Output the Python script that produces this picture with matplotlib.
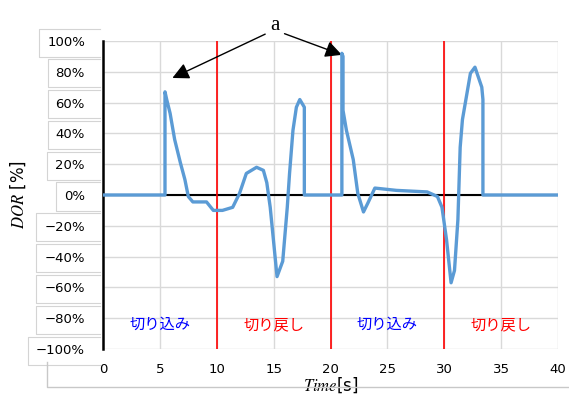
import matplotlib.pyplot as plt
from matplotlib.ticker import FuncFormatter
from matplotlib.lines import Line2D

plt.rcParams['font.family'] = ['DejaVu Sans', 'Noto Sans CJK JP']
plt.rcParams['mathtext.fontset'] = 'stix'

# DOR trace (time [s], DOR [%])
time = [0, 5.45, 5.45, 5.6, 5.9, 6.3, 6.8, 7.2, 7.5, 7.9, 9.1, 9.7, 10.5, 11.4,
        12.0, 12.6, 13.5, 14.1, 14.4, 14.7, 15.3, 15.8, 16.2, 16.4, 16.7, 17.0,
        17.3, 17.7, 17.7, 21.0, 21.0, 21.1, 21.1, 21.4, 22.0, 22.4, 22.9, 23.3,
        23.9, 25.8, 28.5, 29.4, 29.8, 30.2, 30.6, 30.9, 31.2, 31.4, 31.6, 32.3,
        32.7, 33.3, 33.4, 33.4, 40]
dor = [0, 0, 67, 62, 53, 36, 21, 10, -1, -4.5, -4.5, -10, -10, -8,
       1, 14, 18, 16, 8, -8, -53, -43, -8, 14, 42, 57,
       62, 57, 0, 0, 92, 90, 55, 42, 23, 1, -11, -5,
       4.5, 3, 2, -1, -8, -29, -57, -49, -16, 31, 49, 79,
       83, 70, 62, 0, 0]

phase_lines = [10, 20, 30]
phase_labels = ['切り込み', '切り戻し', '切り込み', '切り戻し']
phase_centers = [5, 15, 25, 35]
phase_colors = ['blue', 'red', 'blue', 'red']

W, H = 569, 399
fig = plt.figure(figsize=(W / 100, H / 100), dpi=100)
ax = fig.add_axes([103 / W, 1 - 349 / H, 455 / W, 308 / H])

ax.axhline(0, color='black', lw=1.5, zorder=2)
for x in phase_lines:
    ax.axvline(x, color='red', lw=1.2, zorder=3)
ax.plot(time, dor, color='#5B9BD5', lw=2.4, zorder=4,
        solid_joinstyle='round', solid_capstyle='round')

for x, lab, c in zip(phase_centers, phase_labels, phase_colors):
    ax.text(x, -84, lab, color=c, ha='center', va='center', fontsize=11,
            family=['Noto Sans CJK JP'])

ax.set_xlim(0, 40)
ax.set_ylim(-100, 100)
ax.set_xticks(range(0, 41, 5))
ax.set_yticks(range(-100, 101, 20))
ax.yaxis.set_major_formatter(FuncFormatter(
    lambda v, p: ('\u2212' if v < 0 else '') + '%d%%' % abs(v)))
ax.grid(True, color='#d9d9d9', lw=1)
ax.set_axisbelow(True)
ax.tick_params(length=0, labelsize=9.5)
ax.tick_params(axis='x', pad=10)
ax.tick_params(axis='y', pad=13)
for s in ['top', 'right', 'bottom']:
    ax.spines[s].set_visible(False)
ax.spines['left'].set_linewidth(1.8)

ax.set_xlabel(r'$\it{Time}$[s]', fontsize=12, labelpad=0)
ax.set_ylabel(r'$\it{DOR}$ [%]', fontsize=12, labelpad=6)

# annotation "a" with two arrows
ap = dict(arrowstyle='-|>,head_length=1.0,head_width=0.5', color='black',
          lw=1, shrinkA=4, shrinkB=0)
ax.annotate('', xy=(6.1, 76), xytext=(14.7, 106), arrowprops=ap, annotation_clip=False)
ax.annotate('', xy=(21.0, 91), xytext=(15.5, 106), arrowprops=ap, annotation_clip=False)
ax.text(15.1, 110, 'a', fontsize=15, family='Liberation Serif', ha='center', va='center')

# faint open boxes around the y tick labels, as in the source image
fig.canvas.draw()
r = fig.canvas.get_renderer()
for lab in ax.get_yticklabels():
    bb = lab.get_window_extent(r)
    x0 = bb.x0 - 8
    yc = (bb.y0 + bb.y1) / 2
    xs = [100 / W, x0 / W, x0 / W, 100 / W]
    ys = [(yc + 14) / H, (yc + 14) / H, (yc - 14) / H, (yc - 14) / H]
    fig.add_artist(Line2D(xs, ys, color='#d4d4d4', lw=0.8))

# faint frame lines at lower left
fig.add_artist(Line2D([47 / W, 47 / W, 1], [1 - 362 / H, 1 - 387 / H, 1 - 387 / H],
                      color='#c8c8c8', lw=1))

fig.savefig('out.png', dpi=100)
